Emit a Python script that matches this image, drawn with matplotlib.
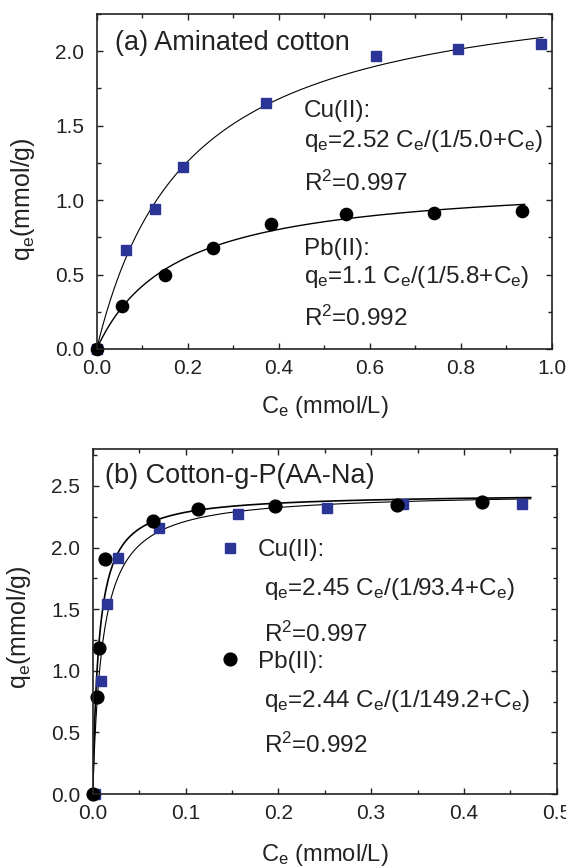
import numpy as np
import matplotlib
matplotlib.use("Agg")
import matplotlib.pyplot as plt
from matplotlib.ticker import MultipleLocator

plt.rcParams['font.family'] = ['Liberation Sans', 'DejaVu Sans']
plt.rcParams['mathtext.fontset'] = 'custom'
plt.rcParams['mathtext.rm'] = 'Liberation Sans'
plt.rcParams['mathtext.it'] = 'Liberation Sans'
plt.rcParams['mathtext.bf'] = 'Liberation Sans:bold'

# (a) aminated cotton
a_cu_ce = [0.0, 0.064, 0.127, 0.189, 0.372, 0.614, 0.793, 0.976]
a_cu_qe = [0.0, 0.667, 0.941, 1.221, 1.653, 1.971, 2.016, 2.047]
a_pb_ce = [0.0, 0.056, 0.149, 0.256, 0.382, 0.547, 0.741, 0.933]
a_pb_qe = [0.0, 0.287, 0.499, 0.680, 0.837, 0.907, 0.915, 0.927]

# (b) cotton-g-P(AA-Na)
b_cu_ce = [0.002, 0.009, 0.0156, 0.0276, 0.0712, 0.157, 0.252, 0.334, 0.463]
b_cu_qe = [0.0, 0.918, 1.539, 1.917, 2.163, 2.276, 2.325, 2.357, 2.357]
b_pb_ce = [0.0, 0.0043, 0.007, 0.0136, 0.0645, 0.113, 0.196, 0.328, 0.420]
b_pb_qe = [0.0, 0.791, 1.183, 1.911, 2.217, 2.311, 2.338, 2.349, 2.370]

# Langmuir fit lines (qm, K, end of drawn curve)
a_cu_fit = (2.52, 5.0, 0.98)
a_pb_fit = (1.15, 5.8, 0.94)
b_cu_fit = (2.45, 93.4, 0.472)
b_pb_fit = (2.44, 149.2, 0.472)

a_cu_text = ["Cu(II):", r"$\mathrm{q_e}$=2.52 C$_\mathrm{e}$/(1/5.0+C$_\mathrm{e}$)", r"R$^\mathrm{2}$=0.997"]
a_pb_text = ["Pb(II):", r"$\mathrm{q_e}$=1.1 C$_\mathrm{e}$/(1/5.8+C$_\mathrm{e}$)", r"R$^\mathrm{2}$=0.992"]
b_cu_text = [r"$\mathrm{q_e}$=2.45 C$_\mathrm{e}$/(1/93.4+C$_\mathrm{e}$)", r"R$^\mathrm{2}$=0.997"]
b_pb_text = [r"$\mathrm{q_e}$=2.44 C$_\mathrm{e}$/(1/149.2+C$_\mathrm{e}$)", r"R$^\mathrm{2}$=0.992"]

blue = '#2b3595'
ink = '#222222'
ann_fs = 17.5


def langmuir(fit):
    qm, k, end = fit
    c = np.linspace(0, end, 400)
    return c, qm * c / (1.0 / k + c)


def style(ax, xmaj, xmin, ymaj, ymin):
    ax.xaxis.set_major_locator(MultipleLocator(xmaj))
    ax.xaxis.set_minor_locator(MultipleLocator(xmin))
    ax.yaxis.set_major_locator(MultipleLocator(ymaj))
    ax.yaxis.set_minor_locator(MultipleLocator(ymin))
    ax.xaxis.set_major_formatter(plt.FormatStrFormatter('%.1f'))
    ax.yaxis.set_major_formatter(plt.FormatStrFormatter('%.1f'))
    ax.tick_params(which='both', direction='in', top=True, right=True,
                   width=1.0, labelsize=15, colors=ink)
    ax.tick_params(which='major', length=4.5)
    ax.tick_params(which='minor', length=3)
    ax.tick_params(axis='x', pad=7)
    ax.tick_params(axis='y', pad=9)
    for s in ax.spines.values():
        s.set_linewidth(1.2)
        s.set_color(ink)


fig = plt.figure(figsize=(5.66, 8.66), dpi=100)

# ---- panel (a)
ax1 = fig.add_axes([0.1708, 0.597, 0.8045, 0.3868])
c, q = langmuir(a_cu_fit)
ax1.plot(c, q, color='black', lw=0.8)
c, q = langmuir(a_pb_fit)
ax1.plot(c, q, color='black', lw=1.0)
ax1.plot(a_cu_ce, a_cu_qe, 's', color=blue, ms=7.3, mec=blue, clip_on=False)
ax1.plot(a_pb_ce, a_pb_qe, 'o', color='black', ms=8.8, clip_on=False)
ax1.set_xlim(0, 1.0)
ax1.set_ylim(0, 2.25)
style(ax1, 0.2, 0.1, 0.5, 0.25)
ax1.set_xlabel(r"C$_\mathrm{e}$ (mmol/L)", fontsize=17, va='top', color=ink)
ax1.set_ylabel(r"q$_\mathrm{e}$(mmol/g)", fontsize=18, color=ink)
ax1.xaxis.set_label_coords(0.5, -0.135)
ax1.yaxis.set_label_coords(-0.131, 0.448)
ax1.text(0.04, 2.01, "(a) Aminated cotton", fontsize=19.5, va='baseline', color=ink)
for txt, y in zip(a_cu_text + a_pb_text, [1.559, 1.357, 1.061, 0.634, 0.443, 0.152]):
    ax1.text(0.455, y, txt, fontsize=ann_fs, va='baseline', color=ink)

# ---- panel (b)
ax2 = fig.add_axes([0.1638, 0.0831, 0.8198, 0.3984])
c, q = langmuir(b_cu_fit)
ax2.plot(c, q, color='black', lw=0.8)
c, q = langmuir(b_pb_fit)
ax2.plot(c, q, color='black', lw=1.2)
cu_pts, = ax2.plot(b_cu_ce, b_cu_qe, 's', color=blue, ms=7.6, mec=blue,
                   clip_on=False, label='Cu(II):')
pb_pts, = ax2.plot(b_pb_ce, b_pb_qe, 'o', color='black', ms=9.2,
                   clip_on=False, label='Pb(II):')
ax2.set_xlim(0, 0.5)
ax2.set_ylim(0, 2.8)
style(ax2, 0.1, 0.05, 0.5, 0.25)
ax2.set_xlabel(r"C$_\mathrm{e}$ (mmol/L)", fontsize=17, va='top', color=ink)
ax2.set_ylabel(r"q$_\mathrm{e}$(mmol/g)", fontsize=18, color=ink)
ax2.xaxis.set_label_coords(0.5, -0.138)
ax2.yaxis.set_label_coords(-0.129, 0.484)
ax2.text(0.0136, 2.524, "(b) Cotton-g-P(AA-Na)", fontsize=19.5, va='baseline', color=ink)
leg = ax2.legend(handles=[cu_pts, pb_pts], loc='upper left',
                 bbox_to_anchor=(0.27, 0.738), frameon=False,
                 fontsize=ann_fs, handlelength=1.0, handletextpad=0.65,
                 labelspacing=3.68, borderpad=0, borderaxespad=0)
for t in leg.get_texts():
    t.set_color(ink)
for txt, y in zip(b_cu_text + b_pb_text, [1.614, 1.236, 0.710, 0.332]):
    ax2.text(0.185, y, txt, fontsize=ann_fs, va='baseline', color=ink)

fig.savefig("out.png", dpi=100)
